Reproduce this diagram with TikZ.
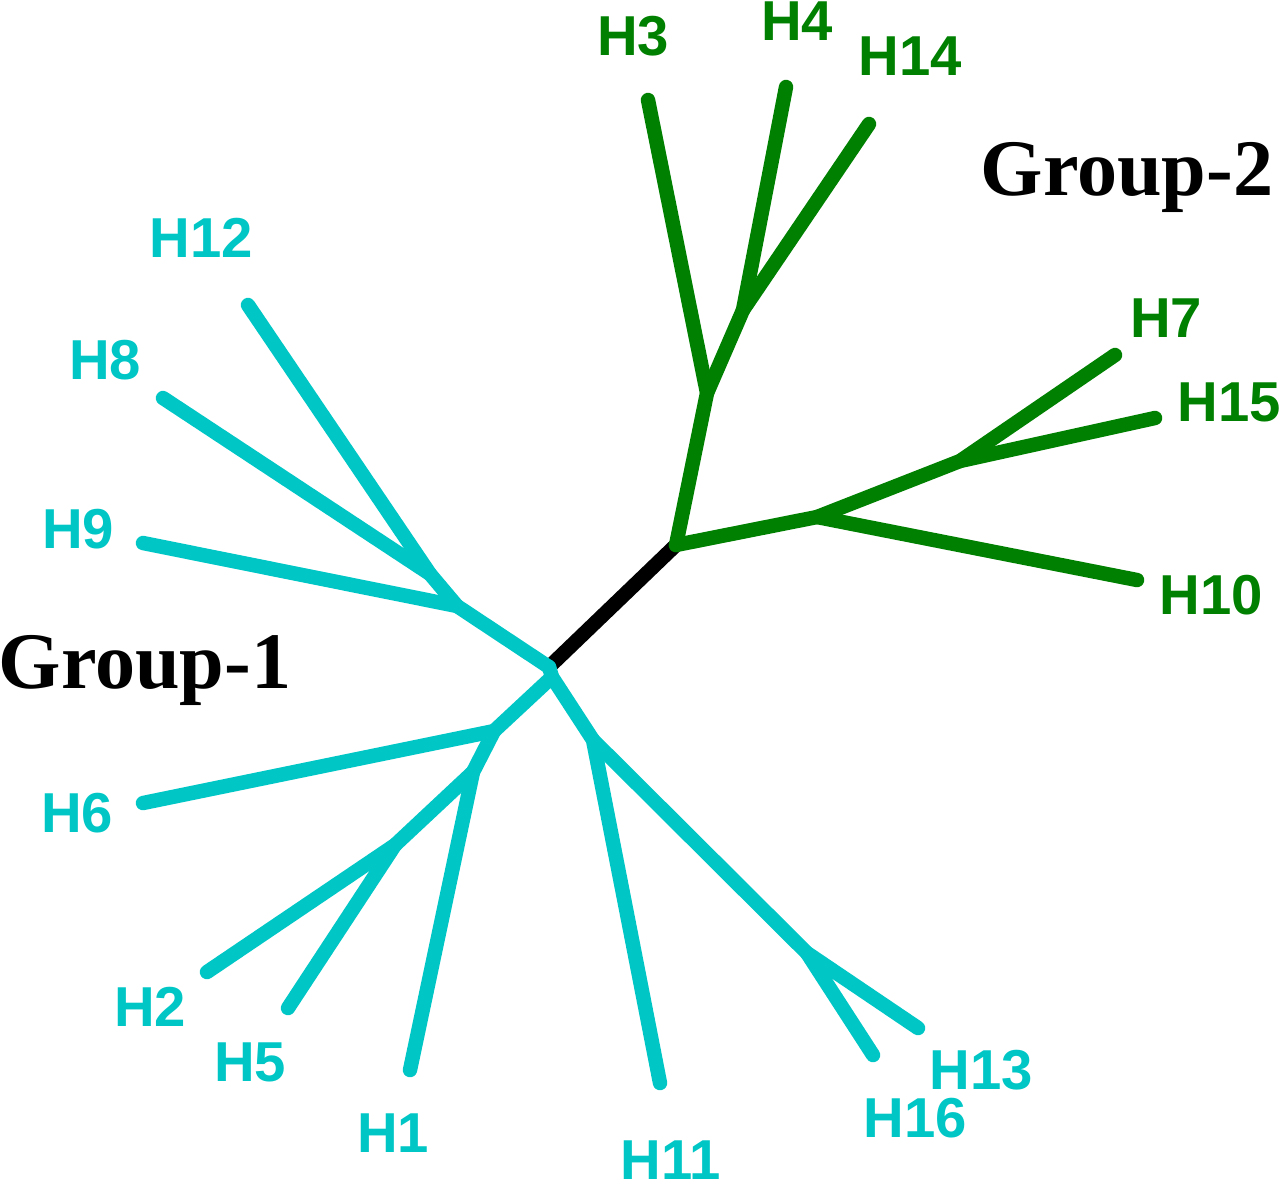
\documentclass[tikz,border=0pt]{standalone}
\usepackage{fontspec}
\setmainfont{Liberation Serif}
\newfontfamily\leaffont{Liberation Sans}
\usepackage{xcolor}
\definecolor{grpone}{RGB}{0,198,198}
\definecolor{grptwo}{RGB}{0,128,0}
\tikzset{
  branch/.style={line width=4.1pt, line cap=round, line join=round},
  leaf/.style={font=\leaffont\bfseries\fontsize{16}{18}\selectfont, inner sep=0pt},
  grouplabel/.style={font=\bfseries\fontsize{22.8}{26}\selectfont, inner sep=0pt, anchor=base}
}
\begin{document}
\begin{tikzpicture}[x=0.01cm, y=-0.01cm]
		\useasboundingbox (0,0) rectangle (1280,1181);
		% inner points of the tree
		\coordinate (r1) at (549,667);
		\coordinate (r2) at (552,677);
		\coordinate (n0) at (676,545);
		\coordinate (nB) at (707,393);
		\coordinate (nD) at (743,310);
		\coordinate (nC) at (817,517);
		\coordinate (nE) at (960,461);
		\coordinate (nF) at (457,606);
		\coordinate (nI) at (430,574);
		\coordinate (nG) at (494,731);
		\coordinate (nJ) at (473,772);
		\coordinate (nK) at (395,845);
		\coordinate (nH) at (593,740);
		\coordinate (nL) at (807,953);
		% leaves
		\coordinate (t3) at (648,100);
		\coordinate (t4) at (786,87);
		\coordinate (t14) at (869,124);
		\coordinate (t7) at (1115,355);
		\coordinate (t15) at (1155,418);
		\coordinate (t10) at (1137,580);
		\coordinate (t12) at (248,305);
		\coordinate (t8) at (163,398);
		\coordinate (t9) at (143,543);
		\coordinate (t6) at (143,803);
		\coordinate (t2) at (207,972);
		\coordinate (t5) at (288,1008);
		\coordinate (t1) at (410,1070);
		\coordinate (t11) at (660,1083);
		\coordinate (t16) at (873,1055);
		\coordinate (t13) at (918,1028);

		\draw[branch, black] (r1) -- (n0);
		\draw[branch, grptwo] (n0) -- (nB) -- (t3);
		\draw[branch, grptwo] (nB) -- (nD) -- (t4);
		\draw[branch, grptwo] (nD) -- (t14);
		\draw[branch, grptwo] (n0) -- (nC) -- (nE) -- (t7);
		\draw[branch, grptwo] (nE) -- (t15);
		\draw[branch, grptwo] (nC) -- (t10);
		\draw[branch, grpone] (r1) -- (nF) -- (t9);
		\draw[branch, grpone] (nF) -- (nI) -- (t8);
		\draw[branch, grpone] (nI) -- (t12);
		\draw[branch, grpone] (r1) -- (r2) -- (nG) -- (t6);
		\draw[branch, grpone] (nG) -- (nJ) -- (t1);
		\draw[branch, grpone] (nJ) -- (nK) -- (t2);
		\draw[branch, grpone] (nK) -- (t5);
		\draw[branch, grpone] (r2) -- (nH) -- (t11);
		\draw[branch, grpone] (nH) -- (nL) -- (t13);
		\draw[branch, grpone] (nL) -- (t16);

		\node[leaf, grptwo] (h3) at (633,36) {H3};
		\node[leaf, grptwo] (h4) at (797,21) {H4};
		\node[leaf, grptwo] (h14) at (910,56) {H14};
		\node[leaf, grptwo] (h7) at (1166,318) {H7};
		\node[leaf, grptwo] (h15) at (1229,402) {H15};
		\node[leaf, grptwo] (h10) at (1211,595) {H10};
		\node[leaf, grpone] (h12) at (201,238) {H12};
		\node[leaf, grpone] (h8) at (105,360) {H8};
		\node[leaf, grpone] (h9) at (78,529) {H9};
		\node[leaf, grpone] (h6) at (77,813) {H6};
		\node[leaf, grpone] (h2) at (150,1007) {H2};
		\node[leaf, grpone] (h5) at (250,1062) {H5};
		\node[leaf, grpone] (h1) at (393,1133) {H1};
		\node[leaf, grpone] (h11) at (671,1160) {H11};
		\node[leaf, grpone] (h16) at (915,1118) {H16};
		\node[leaf, grpone] (h13) at (981,1070) {H13};

		\node[grouplabel] (g1) at (145,688) {Group-1};
		\node[grouplabel] (g2) at (1127,195) {Group-2};
	\end{tikzpicture}
\end{document}
